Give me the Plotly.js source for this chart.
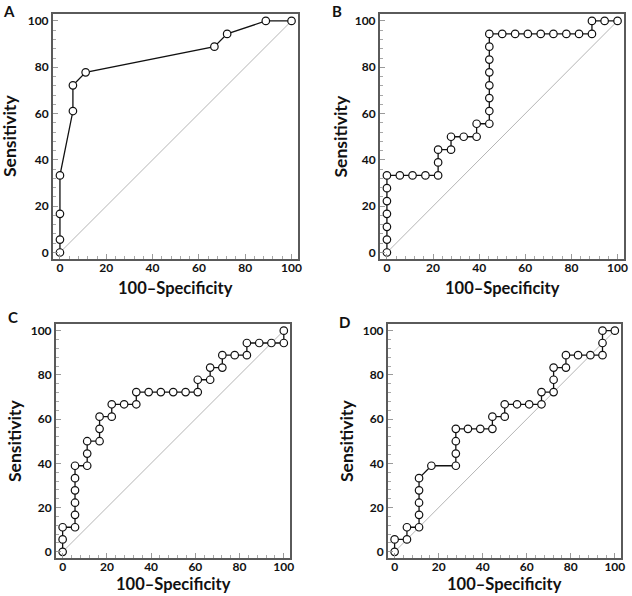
<!DOCTYPE html>
<html>
<head>
<meta charset="utf-8">
<script src="https://cdn.plot.ly/plotly-3.0.1.min.js"></script>
<style>
html,body{margin:0;padding:0;background:#fff;}
#chart{width:632px;height:596px;}
</style>
</head>
<body>
<div id="chart"></div>
<script>
// Data (percent)
var panelLabels = ['A', 'B', 'C', 'D'];
var xTitle = '100–Specificity';
var yTitle = 'Sensitivity';
var tickVals = [0, 20, 40, 60, 80, 100];
var diagX = [0, 100];
var diagY = [0, 100];

var aX = [0, 0, 0, 0, 5.6, 5.6, 11.1, 66.7, 72.2, 88.9, 100];
var aY = [0, 5.6, 16.7, 33.3, 61.1, 72.2, 77.8, 88.9, 94.4, 100, 100];

var bX = [0, 0, 0, 0, 0, 0, 0, 5.6, 11.1, 16.7, 22.2, 22.2, 22.2, 27.8, 27.8, 33.3, 38.9, 38.9, 44.4, 44.4, 44.4, 44.4, 44.4, 44.4, 44.4, 44.4, 50, 55.6, 61.1, 66.7, 72.2, 77.8, 83.3, 88.9, 88.9, 94.4, 100];
var bY = [0, 5.6, 11.1, 16.7, 22.2, 27.8, 33.3, 33.3, 33.3, 33.3, 33.3, 38.9, 44.4, 44.4, 50, 50, 50, 55.6, 55.6, 61.1, 66.7, 72.2, 77.8, 83.3, 88.9, 94.4, 94.4, 94.4, 94.4, 94.4, 94.4, 94.4, 94.4, 94.4, 100, 100, 100];

var cX = [0, 0, 0, 5.6, 5.6, 5.6, 5.6, 5.6, 5.6, 11.1, 11.1, 11.1, 16.7, 16.7, 16.7, 22.2, 22.2, 27.8, 33.3, 33.3, 38.9, 44.4, 50, 55.6, 61.1, 61.1, 66.7, 66.7, 72.2, 72.2, 77.8, 83.3, 83.3, 88.9, 94.4, 100, 100];
var cY = [0, 5.6, 11.1, 11.1, 16.7, 22.2, 27.8, 33.3, 38.9, 38.9, 44.4, 50, 50, 55.6, 61.1, 61.1, 66.7, 66.7, 66.7, 72.2, 72.2, 72.2, 72.2, 72.2, 72.2, 77.8, 77.8, 83.3, 83.3, 88.9, 88.9, 88.9, 94.4, 94.4, 94.4, 94.4, 100];

var dX = [0, 0, 5.6, 5.6, 11.1, 11.1, 11.1, 11.1, 11.1, 16.7, 27.8, 27.8, 27.8, 27.8, 33.3, 38.9, 44.4, 44.4, 50, 50, 55.6, 61.1, 66.7, 66.7, 72.2, 72.2, 72.2, 77.8, 77.8, 83.3, 88.9, 94.4, 94.4, 94.4, 100];
var dY = [0, 5.6, 5.6, 11.1, 11.1, 16.7, 22.2, 27.8, 33.3, 38.9, 38.9, 44.4, 50, 55.6, 55.6, 55.6, 55.6, 61.1, 61.1, 66.7, 66.7, 66.7, 66.7, 72.2, 72.2, 77.8, 83.3, 83.3, 88.9, 88.9, 88.9, 88.9, 94.4, 100, 100];

var series = [[aX, aY], [bX, bY], [cX, cY], [dX, dY]];

// Layout geometry (pixels)
var W = 632, H = 596;
var boxes = [
  {l: 53, r: 298, t: 14, b: 259},
  {l: 380, r: 624, t: 14, b: 259},
  {l: 56, r: 290, t: 324, b: 558},
  {l: 388, r: 621, t: 324, b: 558}
];
var letterPos = [[9, 11], [337, 11], [13, 317], [344, 322]];
var yTitlePos = [9.5, 340, 14, 346];
var xTitleY = [288, 288, 584, 584];

var FONT = 'Lato, "Open Sans", sans-serif';
var traces = [];
var layout = {
  width: W, height: H,
  margin: {l: 0, r: 0, t: 0, b: 0},
  paper_bgcolor: '#fff', plot_bgcolor: '#fff',
  showlegend: false,
  annotations: []
};

for (var i = 0; i < 4; i++) {
  var sfx = i === 0 ? '' : String(i + 1);
  var bx = boxes[i];
  traces.push({
    x: diagX, y: diagY, xaxis: 'x' + sfx, yaxis: 'y' + sfx,
    mode: 'lines', line: {color: '#b5b5b5', width: 1},
    hoverinfo: 'skip'
  });
  traces.push({
    x: series[i][0], y: series[i][1], xaxis: 'x' + sfx, yaxis: 'y' + sfx,
    mode: 'lines+markers',
    line: {color: '#111', width: 1.3},
    marker: {symbol: 'circle', size: 7.5, color: '#fff', line: {color: '#111', width: 1.2}}
  });
  var axCommon = {
    range: [-3, 102.8],
    tickvals: tickVals,
    ticks: 'inside', ticklen: 5, tickwidth: 1, tickcolor: '#9a9a9a',
    minor: {dtick: 4, tick0: 0, ticks: 'inside', ticklen: 3, tickwidth: 1, tickcolor: '#a8a8a8'},
    showgrid: false, zeroline: false,
    showline: true, linecolor: '#5a5a5a', linewidth: 2, mirror: true,
    tickfont: {family: FONT, size: 12, color: '#111', weight: 'bold'},
    fixedrange: true
  };
  var xa = JSON.parse(JSON.stringify(axCommon));
  xa.domain = [bx.l / W, bx.r / W];
  xa.anchor = 'y' + sfx;
  xa.ticklabelstandoff = -3;
  var ya = JSON.parse(JSON.stringify(axCommon));
  ya.domain = [1 - bx.b / H, 1 - bx.t / H];
  ya.anchor = 'x' + sfx;
  ya.range = [-2.8, 103];
  layout['xaxis' + sfx] = xa;
  layout['yaxis' + sfx] = ya;

  layout.annotations.push({
    text: panelLabels[i], xref: 'paper', yref: 'paper',
    x: letterPos[i][0] / W, y: 1 - letterPos[i][1] / H,
    xanchor: 'center', yanchor: 'middle', showarrow: false,
    font: {family: FONT, size: 15, color: '#111', weight: 'bold'}
  });
  layout.annotations.push({
    text: xTitle, xref: 'paper', yref: 'paper',
    x: ((bx.l + bx.r) / 2) / W, y: 1 - xTitleY[i] / H,
    xanchor: 'center', yanchor: 'middle', showarrow: false,
    font: {family: FONT, size: 16.5, color: '#111', weight: 'bold'}
  });
  layout.annotations.push({
    text: yTitle, xref: 'paper', yref: 'paper',
    x: yTitlePos[i] / W, y: 1 - ((bx.t + bx.b) / 2) / H,
    xanchor: 'center', yanchor: 'middle', showarrow: false, textangle: -90,
    font: {family: FONT, size: 17.5, color: '#111', weight: 'bold'}
  });
}

Plotly.newPlot('chart', traces, layout, {displayModeBar: false, staticPlot: true});
</script>
</body>
</html>
